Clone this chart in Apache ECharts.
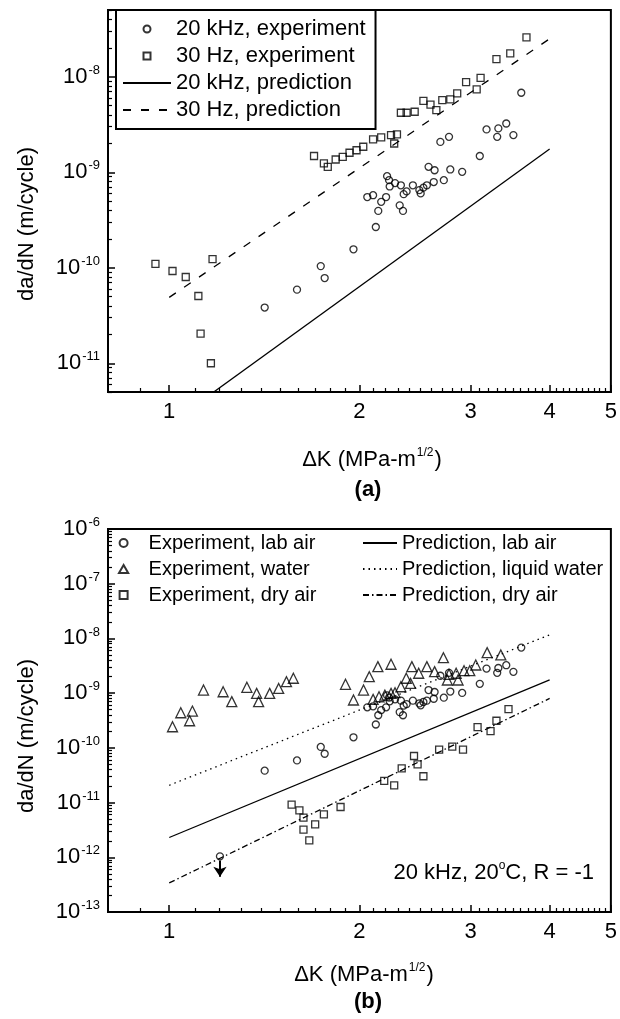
<!DOCTYPE html>
<html>
<head>
<meta charset="utf-8">
<script src="https://cdn.jsdelivr.net/npm/echarts@6/dist/echarts.min.js"></script>
<style>
  html, body { margin: 0; padding: 0; background: #fff; }
  #chart { width: 620px; height: 1019px; }
</style>
</head>
<body>
<div id="chart"></div>
<script>
// ---- data: [ΔK (MPa·m^1/2), da/dN (m/cycle)] ----
const labAirExp = [ // 20 kHz, lab air
  [1.203, 1.04e-12], [1.416, 3.83e-11], [1.593, 5.9e-11], [1.737, 1.04e-10], [1.762, 7.8e-11],
  [1.957, 1.56e-10], [2.058, 5.5e-10], [2.102, 5.75e-10], [2.123, 2.67e-10], [2.142, 3.94e-10],
  [2.165, 4.9e-10], [2.204, 5.5e-10], [2.212, 9.1e-10], [2.228, 8.26e-10], [2.233, 7.1e-10],
  [2.277, 7.7e-10], [2.316, 4.5e-10], [2.344, 3.94e-10], [2.326, 7.3e-10], [2.35, 5.9e-10],
  [2.375, 6.3e-10], [2.43, 7.3e-10], [2.488, 6.5e-10], [2.5, 6.0e-10], [2.525, 6.9e-10],
  [2.557, 7.3e-10], [2.573, 1.14e-9], [2.622, 7.9e-10], [2.63, 1.05e-9], [2.72, 8.26e-10],
  [2.785, 1.07e-9], [2.908, 1.01e-9], [2.686, 2.08e-9], [2.772, 2.35e-9], [3.101, 1.48e-9],
  [3.178, 2.81e-9], [3.304, 2.35e-9], [3.318, 2.88e-9], [3.415, 3.24e-9], [3.505, 2.45e-9],
  [3.607, 6.8e-9]
];
const runoutArrow = [[1.203, 8.7e-13], [1.203, 4.4e-13]];

const hz30Exp = [ // 30 Hz, lab air
  [0.951, 1.1e-10], [1.012, 9.25e-11], [1.062, 8.0e-11], [1.112, 5.06e-11], [1.121, 2.04e-11],
  [1.164, 1.0e-11], [1.171, 1.23e-10], [1.695, 1.48e-9], [1.757, 1.24e-9], [1.782, 1.14e-9],
  [1.834, 1.36e-9], [1.882, 1.45e-9], [1.929, 1.6e-9], [1.979, 1.7e-9], [2.028, 1.85e-9],
  [2.102, 2.21e-9], [2.165, 2.32e-9], [2.244, 2.45e-9], [2.293, 2.49e-9], [2.27, 2.0e-9],
  [2.326, 4.2e-9], [2.375, 4.2e-9], [2.446, 4.3e-9], [2.525, 5.6e-9], [2.591, 5.1e-9],
  [2.647, 4.48e-9], [2.705, 5.7e-9], [2.785, 5.8e-9], [2.856, 6.7e-9], [2.95, 8.8e-9],
  [3.066, 7.38e-9], [3.11, 9.75e-9], [3.295, 1.53e-8], [3.465, 1.76e-8], [3.676, 2.59e-8]
];

const waterExp = [
  [1.012, 2.43e-10], [1.043, 4.38e-10], [1.077, 3.13e-10], [1.088, 4.7e-10], [1.133, 1.14e-9],
  [1.217, 1.06e-9], [1.256, 7.0e-10], [1.327, 1.28e-9], [1.375, 9.9e-10], [1.385, 7.0e-10],
  [1.442, 9.9e-10], [1.49, 1.22e-9], [1.533, 1.62e-9], [1.572, 1.87e-9],
  [1.901, 1.45e-9], [1.957, 7.5e-10], [2.03, 1.14e-9], [2.073, 2.0e-9], [2.102, 7.7e-10],
  [2.139, 3.05e-9], [2.148, 8.6e-10], [2.194, 9.2e-10], [2.244, 3.37e-9], [2.244, 9.9e-10],
  [2.277, 1.02e-9], [2.326, 1.31e-9], [2.372, 1.87e-9], [2.409, 1.51e-9], [2.421, 3.05e-9],
  [2.482, 2.31e-9], [2.557, 3.05e-9], [2.63, 2.47e-9], [2.716, 4.45e-9], [2.755, 1.74e-9],
  [2.772, 2.21e-9], [2.845, 2.31e-9], [2.865, 1.74e-9], [2.928, 2.57e-9], [2.99, 2.57e-9],
  [3.056, 3.27e-9], [3.185, 5.5e-9], [3.348, 4.99e-9]
];

const dryAirExp = [
  [1.562, 9.2e-12], [1.607, 7.2e-12], [1.631, 5.3e-12], [1.631, 3.2e-12], [1.666, 2.04e-12],
  [1.702, 4.0e-12], [1.757, 6.1e-12], [1.867, 8.3e-12], [2.189, 2.49e-11], [2.27, 2.07e-11],
  [2.333, 4.2e-11], [2.44, 7.1e-11], [2.472, 5.0e-11], [2.525, 3.03e-11], [2.674, 9.3e-11],
  [2.805, 1.05e-10], [2.917, 9.3e-11], [3.076, 2.39e-10], [3.225, 2.02e-10], [3.295, 3.13e-10],
  [3.443, 5.1e-10]
];

const pred20kHz = [[1.0, 2.3e-12], [4.0, 1.75e-9]];
const pred30Hz = [[1.0, 4.9e-11], [4.0, 2.5e-8]];
const predWater = [[1.0, 2.07e-11], [4.0, 1.16e-8]];
const predDryAir = [[1.0, 3.4e-13], [4.0, 8.0e-10]];

// ---- axis ranges and ticks ----
const xRange = [0.8, 5];
const yRangeA = [5e-12, 5e-8];
const yRangeB = [1e-13, 1e-6];
const xTickLabels = [1, 2, 3, 4, 5];
const xMinorTicks = [0.9];
for (let a = 1; a < 5; a++) for (let b = 1; b <= 9; b++) xMinorTicks.push(+(a + b / 10).toFixed(1));
const yDecadesA = [1e-11, 1e-10, 1e-9, 1e-8];
const yDecadesB = [1e-13, 1e-12, 1e-11, 1e-10, 1e-9, 1e-8, 1e-7, 1e-6];
function minorDecadeTicks(lo, hi) {
  const out = [];
  for (let e = -14; e <= -5; e++) for (let k = 2; k <= 9; k++) {
    const v = k * Math.pow(10, e);
    if (v >= lo * 0.999 && v <= hi * 1.001) out.push(v);
  }
  return out;
}

const FONT = '"Liberation Sans", Arial, Helvetica, sans-serif';
const BLACK = '#000';
const ICON_SQUARE = 'path://M0,0L10,0L10,10L0,10Z';
const ICON_TRIANGLE = 'path://M5,0L10,8.7L0,8.7Z';
const lg = Math.log10;

function expLabel(v) {
  const e = lg(v);
  if (Math.abs(e - Math.round(e)) > 1e-6) return '';
  return '{b|10}{s|' + Math.round(e) + '}';
}
const expRich = {
  b: { fontSize: 22, fontFamily: FONT, color: BLACK },
  s: { fontSize: 13, fontFamily: FONT, color: BLACK, padding: [0, 0, 13, 1] }
};

// Tick-only companion axis: same span in decades, ticks pointing into the plot.
function tickAxis(gridIndex, position, range, values, len) {
  return {
    type: 'value', gridIndex, position, min: lg(range[0]), max: lg(range[1]),
    axisLine: { show: false, onZero: false },
    axisTick: { show: true, inside: true, length: len, customValues: values.map(lg),
      lineStyle: { color: BLACK, width: len > 5 ? 1.5 : 1.2 } },
    axisLabel: { show: false }, splitLine: { show: false }, minorTick: { show: false }
  };
}
function xAxes(gridIndex) {
  return [
    {
      type: 'log', logBase: 10, gridIndex, position: 'bottom', min: xRange[0], max: xRange[1],
      axisLine: { show: true, onZero: false, lineStyle: { color: BLACK, width: 2 } },
      axisTick: { show: false },
      axisLabel: { show: true, customValues: xTickLabels, margin: 9, color: BLACK, fontSize: 22, fontFamily: FONT,
        formatter: v => String(Math.round(v)) },
      splitLine: { show: false }, minorTick: { show: false }
    },
    tickAxis(gridIndex, 'bottom', xRange, xTickLabels, 7),
    tickAxis(gridIndex, 'bottom', xRange, xMinorTicks, 4)
  ];
}
function yAxes(gridIndex, range, decades) {
  return [
    {
      type: 'log', logBase: 10, gridIndex, position: 'left', min: range[0], max: range[1],
      axisLine: { show: true, onZero: false, lineStyle: { color: BLACK, width: 2 } },
      axisTick: { show: false },
      axisLabel: { show: true, customValues: decades, margin: 8, formatter: expLabel, rich: expRich },
      splitLine: { show: false }, minorTick: { show: false }
    },
    tickAxis(gridIndex, 'left', range, decades, 7),
    tickAxis(gridIndex, 'left', range, minorDecadeTicks(range[0], range[1]), 4)
  ];
}

const hollow = { color: 'rgba(0,0,0,0)', borderColor: BLACK, borderWidth: 1.3 };
function scatter(name, data, xi, yi, symbol, size) {
  return { name, type: 'scatter', data, xAxisIndex: xi, yAxisIndex: yi, symbol, symbolSize: size,
    itemStyle: hollow, z: 3, emphasis: { disabled: true } };
}
function line(name, data, xi, yi, type) {
  return { name, type: 'line', data, xAxisIndex: xi, yAxisIndex: yi, symbol: 'none', showSymbol: false,
    lineStyle: { color: BLACK, width: 1.3, type },
    itemStyle: { color: 'rgba(0,0,0,0)', borderWidth: 0 }, z: 2, clip: true,
    emphasis: { disabled: true } };
}

const legendText = (size) => ({ fontSize: size, fontFamily: FONT, color: BLACK, lineHeight: 22 });

const chart = echarts.init(document.getElementById('chart'), null, { renderer: 'canvas' });
chart.setOption({
  backgroundColor: '#fff',
  animation: false,
  textStyle: { fontFamily: FONT, color: BLACK },
  grid: [
    { left: 108, top: 10, width: 506, height: 382, show: true, borderColor: BLACK, borderWidth: 2, backgroundColor: 'transparent' },
    { left: 108, top: 529, width: 506, height: 383, show: true, borderColor: BLACK, borderWidth: 2, backgroundColor: 'transparent' }
  ],
  // x axes: 0-2 panel (a), 3-5 panel (b); y axes likewise
  xAxis: [...xAxes(0), ...xAxes(1)],
  yAxis: [...yAxes(0, yRangeA, yDecadesA), ...yAxes(1, yRangeB, yDecadesB)],
  legend: [
    {
      data: [
        { name: '20 kHz, experiment' },
        { name: '30 Hz, experiment', icon: ICON_SQUARE },
        { name: '20 kHz, prediction' },
        { name: '30 Hz, prediction' }
      ],
      orient: 'vertical', left: 116, top: 10, padding: [8, 10, 8, 6], itemGap: 5, itemWidth: 48, itemHeight: 7,
      symbolKeepAspect: true,
      backgroundColor: '#fff', borderColor: BLACK, borderWidth: 2, borderRadius: 0,
      textStyle: legendText(22), selectedMode: false
    },
    {
      data: [
        { name: 'Experiment, lab air' },
        { name: 'Experiment, water', icon: ICON_TRIANGLE },
        { name: 'Experiment, dry air', icon: ICON_SQUARE }
      ],
      orient: 'vertical', left: 118, top: 532, padding: 0, itemGap: 4, itemWidth: 40, itemHeight: 8,
      symbolKeepAspect: true,
      textStyle: legendText(20), selectedMode: false
    },
    {
      data: ['Prediction, lab air', 'Prediction, liquid water', 'Prediction, dry air'],
      orient: 'vertical', left: 362, top: 532, padding: 0, itemGap: 4, itemWidth: 34, itemHeight: 8,
      textStyle: legendText(20), selectedMode: false
    }
  ],
  series: [
    // (a)
    line('20 kHz, prediction', pred20kHz, 0, 0, 'solid'),
    line('30 Hz, prediction', pred30Hz, 0, 0, [8, 10]),
    scatter('20 kHz, experiment', labAirExp, 0, 0, 'circle', 7),
    scatter('30 Hz, experiment', hz30Exp, 0, 0, 'rect', 7),
    // (b)
    line('Prediction, lab air', pred20kHz, 3, 3, 'solid'),
    line('Prediction, liquid water', predWater, 3, 3, [1.5, 4]),
    line('Prediction, dry air', predDryAir, 3, 3, [6, 3, 1.5, 3]),
    Object.assign(scatter('Experiment, lab air', labAirExp, 3, 3, 'circle', 7), {
      markLine: {
        silent: true, symbol: ['none', 'arrow'], symbolSize: 10,
        lineStyle: { color: BLACK, width: 2, type: 'solid' },
        itemStyle: { color: BLACK },
        label: { show: false },
        emphasis: { disabled: true },
        data: [[{ coord: runoutArrow[0] }, { coord: runoutArrow[1] }]]
      }
    }),
    scatter('Experiment, water', waterExp, 3, 3, 'triangle', 10),
    scatter('Experiment, dry air', dryAirExp, 3, 3, 'rect', 7)
  ],
  graphic: [
    { type: 'text', x: 27, y: 224, rotation: Math.PI / 2,
      style: { text: 'da/dN (m/cycle)', font: '22px ' + FONT, fill: BLACK, align: 'center', verticalAlign: 'middle' } },
    { type: 'text', x: 27, y: 736, rotation: Math.PI / 2,
      style: { text: 'da/dN (m/cycle)', font: '22px ' + FONT, fill: BLACK, align: 'center', verticalAlign: 'middle' } },
    { type: 'text', x: 372, y: 460,
      style: { text: '{a|ΔK (MPa-m}{s|1/2}{a|)}', align: 'center', verticalAlign: 'middle',
        rich: { a: { fontSize: 22, fontFamily: FONT, fill: BLACK }, s: { fontSize: 12, fontFamily: FONT, fill: BLACK, padding: [0, 1, 14, 1] } } } },
    { type: 'text', x: 368, y: 490,
      style: { text: '(a)', font: 'bold 22px ' + FONT, fill: BLACK, align: 'center', verticalAlign: 'middle' } },
    { type: 'text', x: 364, y: 975,
      style: { text: '{a|ΔK (MPa-m}{s|1/2}{a|)}', align: 'center', verticalAlign: 'middle',
        rich: { a: { fontSize: 22, fontFamily: FONT, fill: BLACK }, s: { fontSize: 12, fontFamily: FONT, fill: BLACK, padding: [0, 1, 14, 1] } } } },
    { type: 'text', x: 368, y: 1002,
      style: { text: '(b)', font: 'bold 22px ' + FONT, fill: BLACK, align: 'center', verticalAlign: 'middle' } },
    { type: 'text', x: 594, y: 873,
      style: { text: '{a|20 kHz, 20}{s|o}{a|C, R = -1}', align: 'right', verticalAlign: 'middle',
        rich: { a: { fontSize: 22, fontFamily: FONT, fill: BLACK }, s: { fontSize: 12, fontFamily: FONT, fill: BLACK, padding: [0, 0, 14, 0] } } } }
  ]
});
</script>
</body>
</html>
